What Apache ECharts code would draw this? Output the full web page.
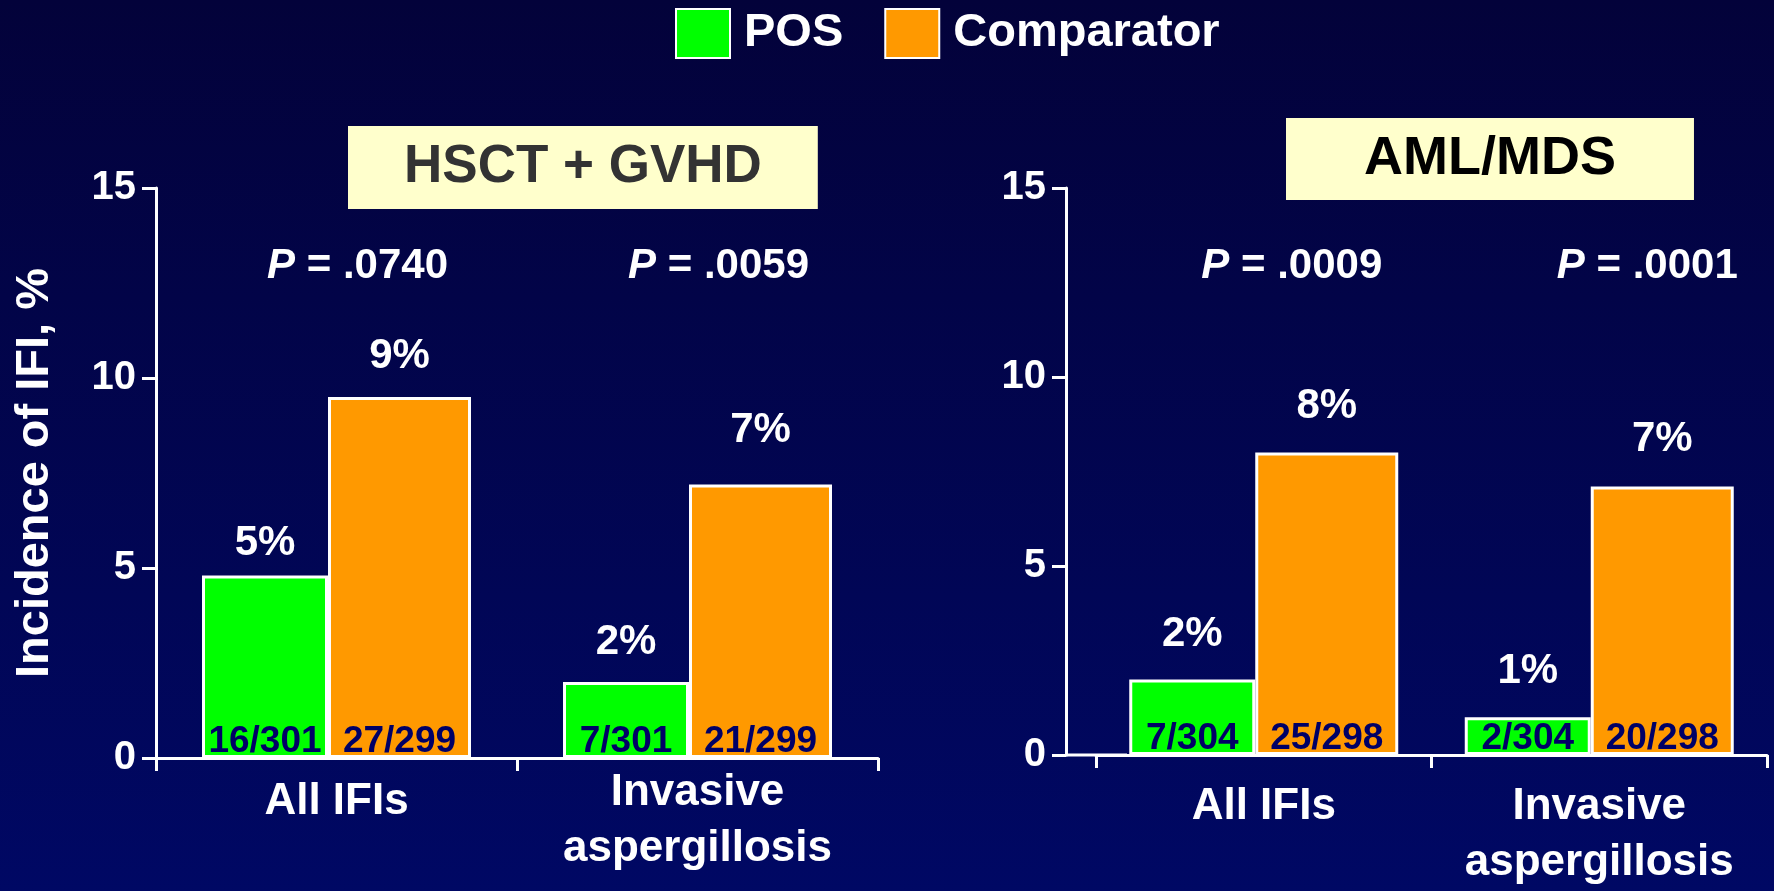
<!DOCTYPE html>
<html>
<head>
<meta charset="utf-8">
<script src="https://cdn.jsdelivr.net/npm/echarts@6/dist/echarts.min.js"></script>
<style>
html,body{margin:0;padding:0;background:#02013c;}
#chart{width:1774px;height:891px;}
</style>
</head>
<body>
<div id="chart"></div>
<script>
// ---- data ----
const categories = ['All IFIs', 'Invasive\naspergillosis'];
const seriesNames = ['POS', 'Comparator'];
const panelTitles = ['HSCT + GVHD', 'AML/MDS'];
const yAxisName = 'Incidence of IFI, %';
const yMin = 0, yMax = 15, yInterval = 5;

const hsctPos = [4.8, 2.0];
const hsctComp = [9.5, 7.2];
const amlPos = [2.0, 1.0];
const amlComp = [8.0, 7.1];

const hsctPosPct = ['5%', '2%'];
const hsctCompPct = ['9%', '7%'];
const amlPosPct = ['2%', '1%'];
const amlCompPct = ['8%', '7%'];

const hsctPosN = ['16/301', '7/301'];
const hsctCompN = ['27/299', '21/299'];
const amlPosN = ['7/304', '2/304'];
const amlCompN = ['25/298', '20/298'];

const hsctP = ['.0740', '.0059'];
const amlP = ['.0009', '.0001'];

// ---- styling ----
const FONT = "'Liberation Sans', Arial, sans-serif";
const GREEN = '#00FF00', ORANGE = '#FF9900', NAVY_TXT = '#000066';
// label gaps above bars (style only)
const gapStyle = {
  hsct: { pos: [11, 19], comp: [20, 33] },
  aml: { pos: [24, 25], comp: [25, 26] }
};

const chart = echarts.init(document.getElementById('chart'));

function panelAxes(g, pValues, cfg) {
  const catLabel = {
    color: '#fff', fontFamily: FONT, fontSize: 44, fontWeight: 'bold',
    lineHeight: 56, margin: cfg.catMargin, verticalAlign: 'top', interval: 0
  };
  if (cfg.firstPad) {
    catLabel.formatter = (v, i) => (i === 0 ? '{pad|' + v + '}' : v);
    catLabel.rich = {
      pad: {
        padding: [cfg.firstPad, 0, 0, 0], color: '#fff', fontFamily: FONT,
        fontSize: 44, fontWeight: 'bold', lineHeight: 56
      }
    };
  }
  const axisLine = { show: true, lineStyle: { color: '#fff', width: 3 } };
  if (cfg.lineExt) {
    axisLine.symbol = ['rect', 'none'];
    axisLine.symbolSize = [3, cfg.lineExt * 2];
    axisLine.symbolOffset = [0, 0];
  }
  const pRich = {};
  cfg.pPad.forEach((pad, i) => {
    pRich['i' + i] = {
      fontStyle: 'italic', fontWeight: 'bold', fontSize: 42, color: '#fff',
      fontFamily: FONT, padding: [0, 0, 0, pad]
    };
  });
  return [
    {
      type: 'category', gridIndex: g, data: categories, position: 'bottom',
      axisLine,
      axisTick: { show: true, length: 13, lineStyle: { color: '#fff', width: 3 } },
      axisLabel: catLabel
    },
    {
      type: 'category', gridIndex: g, data: categories, position: 'top',
      axisLine: { show: false }, axisTick: { show: false },
      axisLabel: {
        inside: true, margin: 57, interval: 0,
        color: '#fff', fontFamily: FONT, fontSize: 42, fontWeight: 'bold',
        formatter: (v, i) => '{i' + i + '|P} = ' + pValues[i],
        rich: pRich
      }
    }
  ];
}

function panelSeries(g, pos, comp, posPct, compPct, posN, compN, gaps) {
  const mk = (name, data, color, width, pct, gap) => ({
    name, type: 'bar', xAxisIndex: 2 * g, yAxisIndex: g,
    data: data.map((v, i) => ({ value: v, label: { distance: gap[i] } })),
    barWidth: width, barGap: 0,
    itemStyle: { color, borderColor: '#fff', borderWidth: 3 },
    label: {
      show: true, position: 'top',
      formatter: p => pct[p.dataIndex],
      color: '#fff', fontFamily: FONT, fontSize: 42, fontWeight: 'bold'
    }
  });
  const mkN = (name, data, width, nTxt) => ({
    name, type: 'bar', xAxisIndex: 2 * g + 1, yAxisIndex: g, data,
    barWidth: width, barGap: 0, silent: true, z: 5,
    itemStyle: { color: 'rgba(0,0,0,0)', borderWidth: 0 },
    label: {
      show: true, position: 'insideBottom', distance: -2,
      formatter: p => nTxt[p.dataIndex],
      color: NAVY_TXT, fontFamily: FONT, fontSize: 37, fontWeight: 'bold'
    }
  });
  return [
    mk(seriesNames[0], pos, GREEN, 126, posPct, gaps.pos),
    mk(seriesNames[1], comp, ORANGE, 143, compPct, gaps.comp),
    mkN(seriesNames[0] + ' n', pos, 126, posN),
    mkN(seriesNames[1] + ' n', comp, 143, compN)
  ];
}

function yAx(g, extra) {
  return Object.assign({
    type: 'value', gridIndex: g, min: yMin, max: yMax, interval: yInterval,
    axisLine: { show: true, lineStyle: { color: '#fff', width: 3 } },
    axisTick: { show: true, length: 14, lineStyle: { color: '#fff', width: 3 } },
    axisLabel: { color: '#fff', fontFamily: FONT, fontSize: 40, fontWeight: 'bold', margin: 20 },
    splitLine: { show: false }
  }, extra);
}

const option = {
  backgroundColor: {
    type: 'linear', x: 0, y: 0, x2: 0, y2: 1,
    colorStops: [{ offset: 0, color: '#03023a' }, { offset: 1, color: '#000864' }]
  },
  animation: false,
  textStyle: { fontFamily: FONT },
  legend: {
    data: seriesNames, left: 675, top: 8, padding: 0,
    icon: 'rect', itemWidth: 54, itemHeight: 49, itemGap: 41,
    textStyle: { color: '#fff', fontFamily: FONT, fontSize: 47, fontWeight: 'bold', padding: [0, 0, 0, 9] }
  },
  title: [
    {
      text: panelTitles[0], left: 348, top: 126, padding: [15, 56],
      backgroundColor: '#FFFFCC',
      textStyle: { color: '#333333', fontFamily: FONT, fontSize: 53, fontWeight: 'bold', lineHeight: 53 }
    },
    {
      text: panelTitles[1], left: 1286, top: 118, padding: [14, 78],
      backgroundColor: '#FFFFCC',
      textStyle: { color: '#000000', fontFamily: FONT, fontSize: 54, fontWeight: 'bold', lineHeight: 54 }
    }
  ],
  grid: [
    { left: 156, right: 896, top: 188, bottom: 133 },
    { left: 1096, right: 7, top: 188, bottom: 133 }
  ],
  xAxis: [
    ...panelAxes(0, hsctP, { catMargin: 7, firstPad: 18, pPad: [42, 42] }),
    ...panelAxes(1, amlP, { catMargin: 24, pPad: [56, 96], lineExt: 31 })
  ],
  yAxis: [
    yAx(0, {
      name: yAxisName, nameLocation: 'middle', nameGap: 97,
      nameTextStyle: { color: '#fff', fontFamily: FONT, fontSize: 47, fontWeight: 'bold' }
    }),
    yAx(1, { offset: 30 })
  ],
  series: [
    ...panelSeries(0, hsctPos, hsctComp, hsctPosPct, hsctCompPct, hsctPosN, hsctCompN, gapStyle.hsct),
    ...panelSeries(1, amlPos, amlComp, amlPosPct, amlCompPct, amlPosN, amlCompN, gapStyle.aml)
  ]
};
chart.setOption(option);
</script>
</body>
</html>
